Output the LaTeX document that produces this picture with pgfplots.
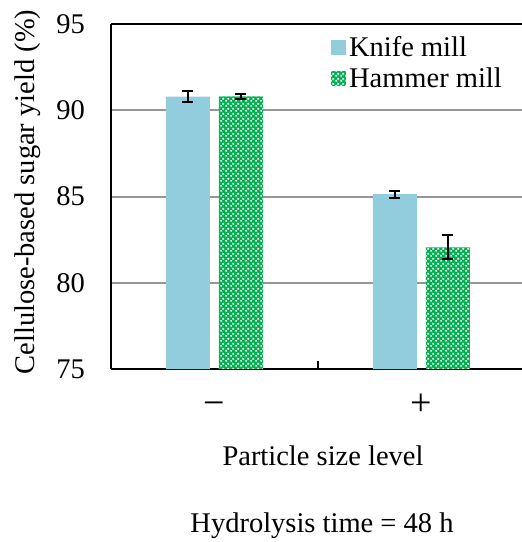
\documentclass[border=0pt]{standalone}
\usepackage{pgfplots}
\pgfplotsset{compat=1.18}
\usetikzlibrary{patterns}
\usepackage{fontspec}
\setmainfont{Liberation Serif}
\definecolor{knife}{RGB}{146,205,221}
\definecolor{hammer}{RGB}{0,176,80}
\definecolor{gridgray}{RGB}{150,150,150}
% white squares on green, like the Excel checker fill
\pgfdeclarepatternformonly{checker}{\pgfqpoint{0pt}{0pt}}{\pgfqpoint{5pt}{5pt}}{\pgfqpoint{5pt}{5pt}}{%
  \pgfpathrectangle{\pgfqpoint{0.3pt}{0.3pt}}{\pgfqpoint{2pt}{2pt}}%
  \pgfpathrectangle{\pgfqpoint{2.8pt}{2.8pt}}{\pgfqpoint{2pt}{2pt}}%
  \pgfusepath{fill}}
\newcommand{\chartfont}{\rmfamily\fontsize{28.5}{33}\selectfont}

\pgfplotstableread{
x y e
0 90.79 0.30
1 85.14 0.20
}\knifedata
\pgfplotstableread{
x y e
0 90.80 0.15
1 82.05 0.70
}\hammerdata

\begin{document}
\begin{tikzpicture}
\useasboundingbox (0pt,0pt) rectangle (522pt,-542pt);
\begin{axis}[
  at={(111pt,-369pt)}, anchor=south west,
  scale only axis, width=414pt, height=345pt,
  xmin=-0.5, xmax=1.5, ymin=75, ymax=95,
  clip=false,
  ybar=9pt, bar width=44pt,
  axis x line*=bottom, axis y line*=left,
  axis line style={black, line width=2.4pt, -},
  xtick={0,1}, xticklabels={−,+},
  extra x ticks={0.5}, extra x tick labels={},
  extra x tick style={major tick length=8pt, tick align=inside,
    tick style={black, line width=2pt}},
  ytick={75,80,...,95},
  major tick length=0pt,
  ymajorgrids, grid style={gridgray, line width=2pt},
  tick label style={font=\chartfont},
  /pgf/number format/assume math mode=true,
  yticklabel style={inner sep=0pt, xshift=-26pt},
  xticklabel style={font=\rmfamily\fontsize{38}{40}\selectfont, anchor=base, inner sep=0pt, yshift=-46pt},
  legend style={at={(0.531,0.97)}, anchor=north west, draw=none, fill=none,
    inner sep=0pt, font=\chartfont, row sep=6pt,
    nodes={inner xsep=3pt, inner ysep=2pt}},
  legend cell align=left,
  legend image code/.code={\path[#1,draw=none] (0pt,-7.5pt) rectangle (15pt,7.5pt);},
]
\addplot[fill=knife, draw=none,
  error bars/.cd, y dir=both, y explicit,
  error bar style={black, line width=1.5pt},
  error mark options={rotate=90, black, line width=2pt, mark size=5.5pt}]
  table[x=x, y=y, y error=e] {\knifedata};
\addlegendentry{Knife mill}
\addplot[fill=hammer, draw=none, postaction={pattern=checker, pattern color=white},
  error bars/.cd, y dir=both, y explicit,
  error bar style={black, line width=1.5pt},
  error mark options={rotate=90, black, line width=2pt, mark size=5.5pt}]
  table[x=x, y=y, y error=e] {\hammerdata};
\addlegendentry{Hammer mill}
\draw[black, line width=2.4pt] (rel axis cs:0,1) -- (rel axis cs:1,1);
\end{axis}
\node[rotate=90, font=\chartfont] at (28pt,-192pt) {Cellulose-based sugar yield (\%)};
\node[font=\chartfont, anchor=base] at (323pt,-465pt) {Particle size level};
\node[font=\chartfont, anchor=base] at (322pt,-532pt) {Hydrolysis time = 48 h};
\end{tikzpicture}
\end{document}
